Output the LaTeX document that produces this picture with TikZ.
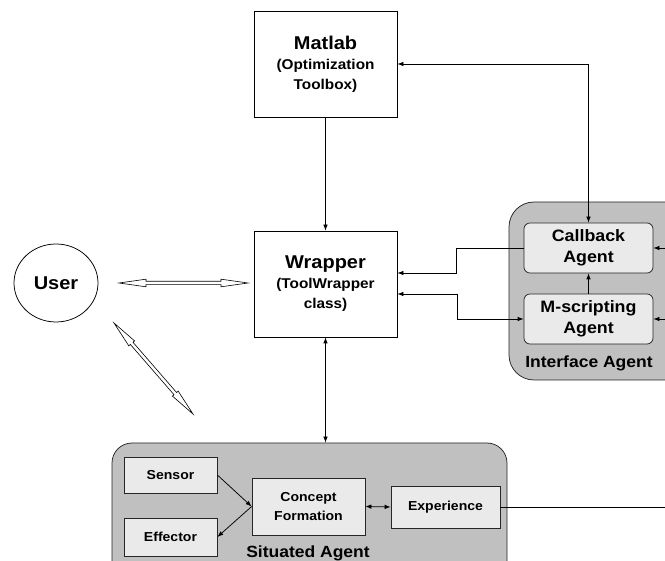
\documentclass[tikz,border=0pt]{standalone}
\usepackage{fontspec}
\setmainfont[FakeStretch=1.08]{Liberation Sans}
\usetikzlibrary{arrows.meta,shapes.geometric,calc}
\definecolor{grayA}{HTML}{C0C0C0}
\definecolor{grayB}{HTML}{EAEAEA}
\newcommand\hollowdbl[2]{%
 \draw[fill=white, line width=0.6pt] (#1)
  -- ($(#1)!27pt!(#2)!3.8pt!90:(#2)$)
  -- ($(#1)!27pt!(#2)!1.7pt!90:(#2)$)
  -- ($(#2)!27pt!(#1)!1.7pt!-90:(#1)$)
  -- ($(#2)!27pt!(#1)!3.8pt!-90:(#1)$)
  -- (#2)
  -- ($(#2)!27pt!(#1)!3.8pt!90:(#1)$)
  -- ($(#2)!27pt!(#1)!1.7pt!90:(#1)$)
  -- ($(#1)!27pt!(#2)!1.7pt!-90:(#2)$)
  -- ($(#1)!27pt!(#2)!3.8pt!-90:(#2)$)
  -- cycle;}
\begin{document}
\begin{tikzpicture}[x=1pt,y=-1pt,
  >={Latex[length=6pt,width=4.5pt]},
  line width=0.75pt,
  plainbox/.style={draw=black, fill=white, rectangle, align=center, inner sep=0pt,
    font=\bfseries\fontsize{14.2}{20}\selectfont, minimum width=143pt, minimum height=106pt},
  groupbox/.style={draw=black!85, fill=grayA, rectangle, inner sep=0pt},
  agentbox/.style={draw=black!85, fill=grayB, rectangle, rounded corners=6pt, align=center,
    inner sep=0pt, font=\bfseries\fontsize{16.5}{20.5}\selectfont, minimum width=129pt, minimum height=50pt},
  smallbox/.style={draw=black!85, fill=grayB, rectangle, align=center, inner sep=0pt,
    font=\bfseries\fontsize{13}{19.5}\selectfont},
  grouplabel/.style={inner sep=0pt, font=\bfseries\fontsize{16.2}{20}\selectfont},
]
\useasboundingbox (0,0) rectangle (665,561);
\clip (0,0) rectangle (665,561);

% containers
\node[groupbox, rounded corners=25pt, minimum width=191pt, minimum height=178pt] (iface) at (604.5,291) {};
\node[groupbox, rounded corners=20pt, minimum width=395pt, minimum height=140pt] (situated) at (309.5,513) {};
\node[grouplabel] (ifacelbl) at (589,363) {Interface Agent};
\node[grouplabel] (sitlbl) at (308,553) {Situated Agent};

% main boxes
\node[plainbox] (matlab) at (325.5,64) {{\fontsize{18.5}{20}\selectfont Matlab}\\(Optimization\\Toolbox)};
\node[plainbox] (wrapper) at (325.5,284) {{\fontsize{18.5}{20}\selectfont Wrapper}\\(ToolWrapper\\class)};
\node[draw, ellipse, minimum width=84pt, minimum height=78pt, inner sep=0pt,
  font=\bfseries\fontsize{18.5}{20}\selectfont] (user) at (56,283) {User};

% interface agent parts
\node[agentbox] (callback) at (588.5,248) {Callback\\Agent};
\node[agentbox] (mscript) at (588.5,319) {M-scripting\\Agent};

% situated agent parts
\node[smallbox, minimum width=93pt, minimum height=36pt] (sensor) at (170.5,475) {Sensor};
\node[smallbox, minimum width=93pt, minimum height=38pt] (effector) at (170.5,537) {Effector};
\node[smallbox, minimum width=113pt, minimum height=57pt] (concept) at (308.5,506.5) {Concept\\Formation};
\node[smallbox, minimum width=109pt, minimum height=42pt] (experience) at (445.5,507) {Experience};

% connectors
\draw[->] (matlab.south) -- (wrapper.north);
\draw[<->] (callback.north) |- (matlab.east);
\draw[->] (callback.west) -- ++(-67,0) |- ($(wrapper.east)+(0,-11)$);
\draw[<->] ($(wrapper.east)+(0,10)$) -- ++(60,0) |- (mscript.west);
\draw[->] (mscript.north) -- (callback.south);
\coordinate (rin1) at (672,248);
\coordinate (rin2) at (672,319);
\draw[->] (rin1) -- (callback.east);
\draw[->] (rin2) -- (mscript.east);
\draw[<->] (wrapper.south) -- (wrapper.south |- situated.north);
\draw[->] (sensor.east) -- (concept.west);
\draw[->] (concept.west) -- (effector.east);
\draw[<->] (concept.east) -- (experience.west);
\coordinate (expout) at (672,507);
\draw (experience.east) -- (expout);

% hollow double arrows
\coordinate (ua1) at (119,283);
\coordinate (ua2) at (248,283);
\coordinate (ub1) at (114,323);
\coordinate (ub2) at (193,414);
\hollowdbl{ua1}{ua2}
\hollowdbl{ub1}{ub2}
\end{tikzpicture}
\end{document}
